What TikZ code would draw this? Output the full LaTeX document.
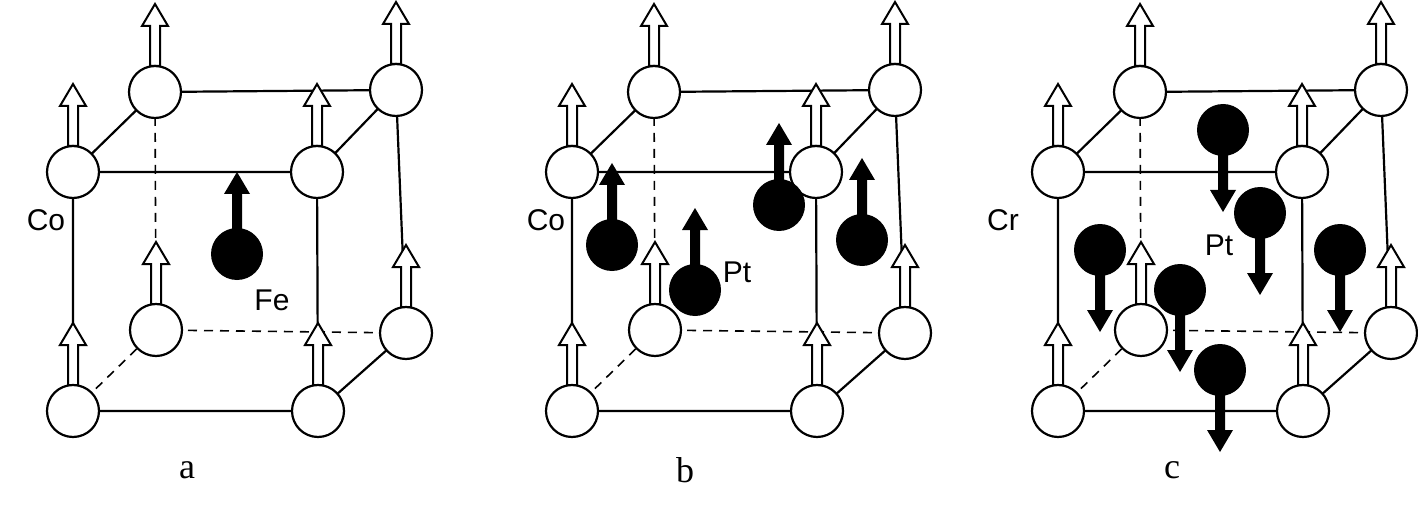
\documentclass[tikz,border=0pt]{standalone}
\usepackage{fontspec}
\setmainfont{Liberation Serif}
\newfontfamily\lab{Liberation Sans}
\begin{document}
\begin{tikzpicture}[x=1pt,y=-1pt,line width=2.2pt,
  atom/.style={circle,draw,fill=white,minimum size=52pt,inner sep=0pt},
  batom/.style={circle,fill=black,minimum size=52pt,inner sep=0pt},
  lbl/.style={font=\lab\fontsize{30}{30}\selectfont},
  panelcap/.style={font=\fontsize{36}{36}\selectfont},
  openup/.pic={\draw[fill=white,line width=2pt] (-5,-26)--(-5,-66)--(-13,-66)--(0,-88)--(13,-66)--(5,-66)--(5,-26)--cycle;},
  blkup/.pic={\fill (-5,0)--(-5,-60)--(-13,-60)--(0,-82)--(13,-60)--(5,-60)--(5,0)--cycle;},
  blkdn/.pic={\fill (-5,0)--(-5,60)--(-13,60)--(0,82)--(13,60)--(5,60)--(5,0)--cycle;}]
\useasboundingbox (0,0) rectangle (1418,505);
\foreach \p/\o in {a/0,b/499,c/985}{
  \begin{scope}[xshift=\o]
    \coordinate (\p fbl) at (73,411); \coordinate (\p fbr) at (318,411);
    \coordinate (\p ftl) at (73,172); \coordinate (\p ftr) at (317,172);
    \coordinate (\p bbl) at (156,330); \coordinate (\p bbr) at (406,333);
    \coordinate (\p btl) at (155,92); \coordinate (\p btr) at (396,90);
    \draw (\p fbl)--(\p fbr)--(\p ftr)--(\p ftl)--cycle;
    \draw (\p ftl)--(\p btl)--(\p btr)--(\p ftr);
    \draw (\p btr)--(\p bbr)--(\p fbr);
    \draw[dashed,line width=1.6pt,dash pattern=on 9pt off 7pt] (\p fbl)--(\p bbl)--(\p btl) (\p bbl)--(\p bbr);
    \foreach \n in {btl,btr,bbl,bbr,ftl,ftr,fbl,fbr}{
      \path (\p\n) pic{openup};
      \node[atom] (\p\n A) at (\p\n) {};
    }
  \end{scope}
}
% panel a
\node[lbl] (coa) at (46,220) {Co};
\node[batom] (fe) at (237,254) {};
\path (fe.center) pic{blkup};
\node[lbl] (fel) at (272,300) {Fe};
\node[panelcap] (la) at (187,470) {a};
% panel b
\node[lbl] (cob) at (546,220) {Co};
\foreach \x/\y/\n in {612/245/b1,695/290/b2,779/205/b3,862/240/b4}{
  \path (\x,\y) pic{blkup};
  \node[batom] (\n) at (\x,\y) {};
}
\node[lbl] (ptb) at (737,272) {Pt};
\node[panelcap] (lb) at (685,470) {b};
% panel c
\node[lbl] (crc) at (1003,220) {Cr};
\foreach \x/\y/\n in {1223/130/c1,1260/213/c2,1100/250/c3,1180/290/c4,1340/250/c5,1220/370/c6}{
  \path (\x,\y) pic{blkdn};
  \node[batom] (\n) at (\x,\y) {};
}
\node[lbl] (ptc) at (1219,245) {Pt};
\node[panelcap] (lc) at (1172,470) {c};
\end{tikzpicture}
\end{document}
